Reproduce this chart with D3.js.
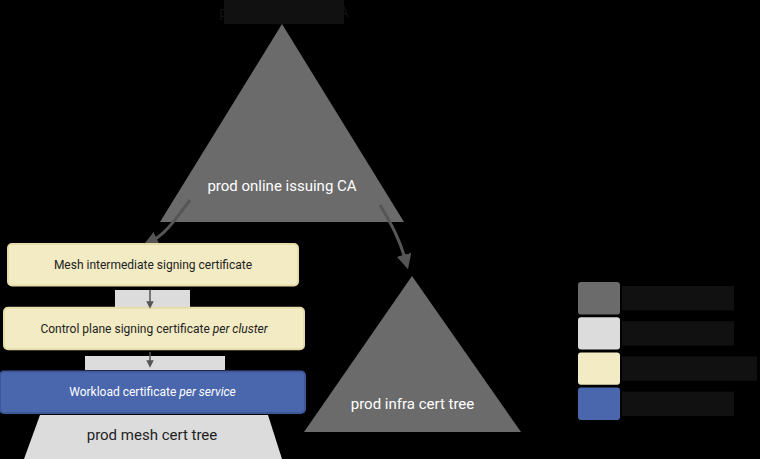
<!DOCTYPE html>
<html><head><meta charset="utf-8">
<script src="https://cdn.jsdelivr.net/npm/d3@7"></script>
<style>body{margin:0;background:#000}svg{display:block}</style>
</head><body>
<svg id="c" width="760" height="459"></svg>
<script>
// diagram content
var triangles = [
    { label: "prod online issuing CA", apex: [282, 24], left: [160, 222], right: [404, 222], textY: 191 },
    { label: "prod infra cert tree", apex: [412, 276], left: [304, 432], right: [521, 432], textY: 409 }
];
var stackLabels = ["Mesh intermediate signing certificate", "Control plane signing certificate", "Workload certificate"];
var stackItalic = ["", "per cluster", "per service"];
var stackKinds = ["signing", "signing", "leaf"];
var legendKinds = ["ca", "intermediate", "signing", "leaf"];
var legendLabels = ["Online CA", "Intermediate CA", "Signing certificate", "Leaf certificate"];
var colors = { ca: "#6b6b6b", intermediate: "#dcdcdc", signing: "#f2ebc3", leaf: "#4a66ad" };

var svg = d3.select("#c");
var font = "Roboto, 'Noto Sans', sans-serif";

// title (dark text on dark background)
svg.append("rect").attr("x", 224).attr("y", 0).attr("width", 120).attr("height", 24).attr("fill", "#111");
svg.append("text").attr("x", 284).attr("y", 17).attr("text-anchor", "middle")
    .attr("font-family", font).attr("font-size", 15).attr("fill", "#121212").text("prod offline root CA");

triangles.forEach(function (t) {
    svg.append("path").attr("d", d3.line()([t.apex, t.left, t.right]) + "Z").attr("fill", colors.ca);
    svg.append("text").attr("x", (t.left[0] + t.right[0]) / 2).attr("y", t.textY).attr("text-anchor", "middle")
        .attr("font-family", font).attr("font-size", 15).attr("fill", "#fff").text(t.label);
});

// curved arrows from the online CA
var arrowColor = "#555";
svg.append("defs").append("marker").attr("id", "ah").attr("viewBox", "0 0 10 10").attr("refX", 5).attr("refY", 5)
    .attr("markerWidth", 5).attr("markerHeight", 5).attr("orient", "auto")
    .append("path").attr("d", "M0,0L10,5L0,10Z").attr("fill", arrowColor);
svg.append("path").attr("d", "M190,200 C175,220 165,235 150,242").attr("fill", "none")
    .attr("stroke", arrowColor).attr("stroke-width", 3).attr("marker-end", "url(#ah)");
svg.append("path").attr("d", "M380,205 C392,225 400,240 406,262").attr("fill", "none")
    .attr("stroke", arrowColor).attr("stroke-width", 3).attr("marker-end", "url(#ah)");

// left stack
var y = d3.scaleBand().domain(d3.range(stackLabels.length)).range([244, 413]).paddingInner(0.35);
var widths = [[8, 298], [4, 304], [0, 305]];
svg.append("path").attr("d", "M115,290 L190,290 L190,310 L115,310Z").attr("fill", colors.intermediate);
svg.append("path").attr("d", "M85,356 L225,356 L225,370 L85,370Z").attr("fill", colors.intermediate);
stackLabels.forEach(function (lab, i) {
    var g = svg.append("g");
    g.append("rect").attr("x", widths[i][0]).attr("y", y(i)).attr("width", widths[i][1] - widths[i][0])
        .attr("height", y.bandwidth()).attr("rx", 4).attr("fill", colors[stackKinds[i]])
        .attr("stroke", stackKinds[i] === "leaf" ? "#3d5799" : "#e6dcaa").attr("stroke-width", 2);
    var t = g.append("text").attr("x", (widths[i][0] + widths[i][1]) / 2).attr("y", y(i) + y.bandwidth() / 2 + 4)
        .attr("text-anchor", "middle").attr("font-family", font).attr("font-size", 12)
        .attr("fill", stackKinds[i] === "leaf" ? "#fff" : "#222");
    t.append("tspan").text(lab);
    if (stackItalic[i]) t.append("tspan").attr("font-style", "italic").text(" " + stackItalic[i]);
});
[[290, 309], [352, 368]].forEach(function (a) {
    svg.append("line").attr("x1", 150).attr("x2", 150).attr("y1", a[0]).attr("y2", a[1] - 4)
        .attr("stroke", arrowColor).attr("stroke-width", 1.5).attr("marker-end", "url(#ah)");
});
svg.append("path").attr("d", "M40,415 L268,415 L282,459 L24,459Z").attr("fill", colors.intermediate);
svg.append("text").attr("x", 152).attr("y", 440).attr("text-anchor", "middle").attr("font-family", font)
    .attr("font-size", 15).attr("fill", "#222").text("prod mesh cert tree");

// legend
var ly = d3.scaleBand().domain(d3.range(legendKinds.length)).range([282, 420]).paddingInner(0.08);
legendKinds.forEach(function (k, i) {
    svg.append("rect").attr("x", 578).attr("y", ly(i)).attr("width", 42).attr("height", ly.bandwidth())
        .attr("rx", 3).attr("fill", colors[k]);
    svg.append("rect").attr("x", 622).attr("y", ly(i) + 4).attr("width", i === 2 ? 135 : 112)
        .attr("height", ly.bandwidth() - 8).attr("fill", "#111");
    svg.append("text").attr("x", 626).attr("y", ly(i) + ly.bandwidth() / 2 + 5).attr("font-family", font)
        .attr("font-size", 14).attr("fill", "#121212").text(legendLabels[i]);
});
</script>
</body></html>
